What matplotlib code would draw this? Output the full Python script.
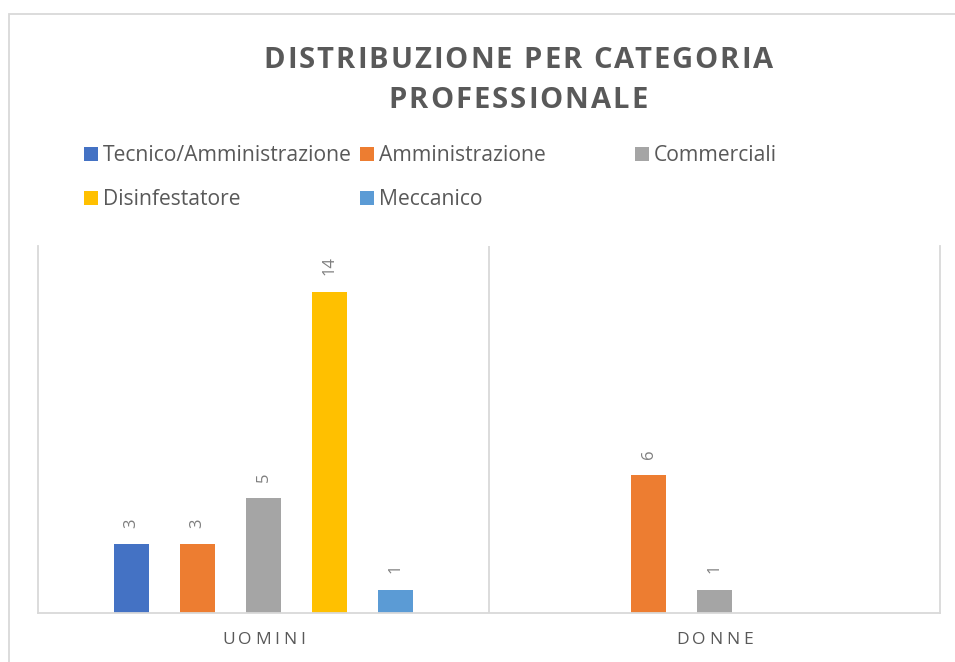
import numpy as np
import matplotlib
matplotlib.use("Agg")
import matplotlib.pyplot as plt
from matplotlib.patches import Rectangle

# ---- data ----
categories = ["UOMINI", "DONNE"]
series_names = ["Tecnico/Amministrazione", "Amministrazione", "Commerciali",
                "Disinfestatore", "Meccanico"]
tecnico = [3, np.nan]
amministrazione = [3, 6]
commerciali = [5, 1]
disinfestatore = [14, np.nan]
meccanico = [1, np.nan]
values = [tecnico, amministrazione, commerciali, disinfestatore, meccanico]
colors = ["#4472C4", "#ED7D31", "#A5A5A5", "#FFC000", "#5B9BD5"]
title_lines = ["DISTRIBUZIONE PER CATEGORIA", "PROFESSIONALE"]

W, H = 955, 662
DPI = 100
fig = plt.figure(figsize=(W / DPI, H / DPI), dpi=DPI)
fig.patch.set_facecolor("white")

FONT = "Open Sans"
TXT = "#595959"
GRID = "#d9d9d9"

def fx(px):
    return px / W

def fy(py):
    return 1 - py / H

# outer chart frame (extends beyond image right/bottom)
fig.add_artist(Rectangle((fx(9), -0.2), 1.5, fy(14) + 0.2, transform=fig.transFigure,
                         fill=False, edgecolor=GRID, linewidth=1.3))

# axes
ax = fig.add_axes([fx(38), fy(613), fx(940) - fx(38), fy(246) - fy(613)])
ax.set_xlim(-0.5, 1.5)
ax.set_ylim(0, 16)
ax.spines["top"].set_visible(False)
for s in ["left", "right", "bottom"]:
    ax.spines[s].set_color(GRID)
    ax.spines[s].set_linewidth(1.3)
ax.axvline(0.5, color=GRID, linewidth=1.3)
ax.set_yticks([])
ax.set_xticks([])

x = np.arange(len(categories))
slot = 0.1463
bw = 0.0776
for i, (vals, c) in enumerate(zip(values, colors)):
    cont = ax.bar(x + (i - 2) * slot, vals, width=bw, color=c, label=series_names[i])
    labels = ["" if np.isnan(v) else f"{int(v)}" for v in vals]
    ax.bar_label(cont, labels=labels, padding=12, rotation=90, fontsize=12,
                 color="#7f7f7f", family=FONT)

fig.canvas.draw()
renderer = fig.canvas.get_renderer()

def text_width(s, **kw):
    t = fig.text(0, 0, s, **kw)
    w = t.get_window_extent(renderer).width
    t.remove()
    return w

def spaced_text(cx_px, cy_px, s, spacing_px, **kw):
    # place characters individually with extra letter spacing, centered at cx_px
    lefts = []
    for i, ch in enumerate(s):
        if ch == " ":
            lefts.append(None)
            continue
        lefts.append(text_width(s[:i + 1], **kw) - text_width(ch, **kw))
    total = text_width(s, **kw) + spacing_px * (len(s) - 1)
    x0 = cx_px - total / 2
    for i, ch in enumerate(s):
        if lefts[i] is None:
            continue
        fig.text(fx(x0 + lefts[i] + i * spacing_px), fy(cy_px), ch,
                 ha="left", va="center", **kw)

# title
tkw = dict(fontsize=21, fontweight="bold", color=TXT, family=FONT)
spaced_text(518, 61, title_lines[0], 2.0, **tkw)
spaced_text(518, 100, title_lines[1], 2.0, **tkw)

# category labels
ckw = dict(fontsize=12.5, color=TXT, family=FONT)
for xi, cat in zip(x, categories):
    px = ax.transData.transform((xi, 0))[0]
    spaced_text(px, 640, cat, 3.6, **ckw)

# legend (Excel-style equal-width columns)
leg_pos = [(84, 154), (360, 154), (635, 154), (84, 198), (360, 198)]
for (lx, ly), name, c in zip(leg_pos, series_names, colors):
    fig.add_artist(Rectangle((fx(lx), fy(ly + 7)), fx(14), fy(0) - fy(14),
                             transform=fig.transFigure, facecolor=c, edgecolor="none"))
    fig.text(fx(lx + 19), fy(ly + 1.5), name, ha="left", va="center",
             fontsize=15.2, color=TXT, family=FONT)

fig.savefig("out.png", dpi=DPI)
